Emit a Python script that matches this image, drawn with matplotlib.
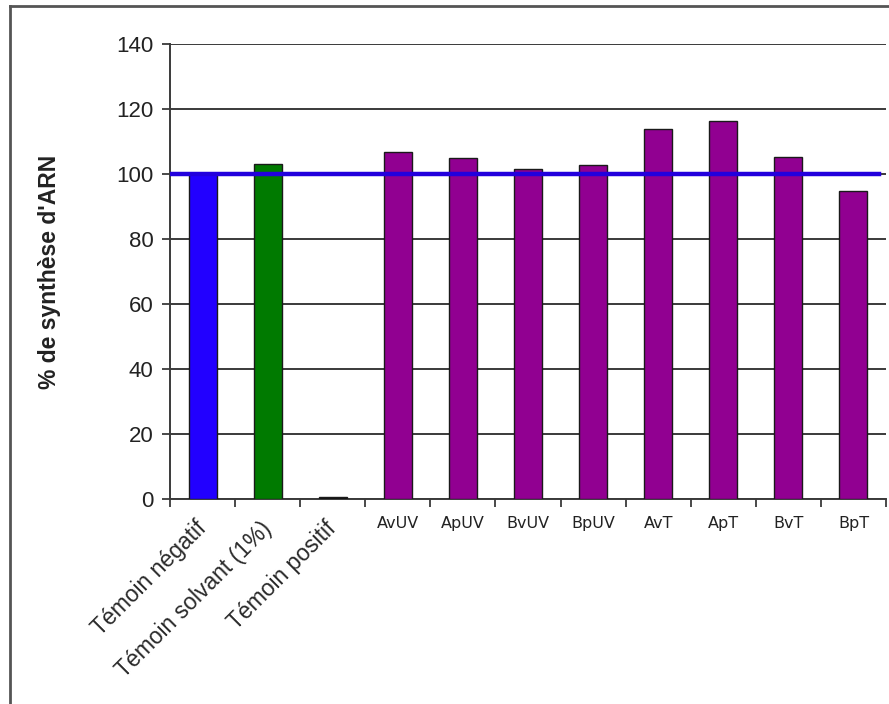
import matplotlib
matplotlib.use("Agg")
import matplotlib.pyplot as plt
from matplotlib.lines import Line2D

categories = ["Témoin négatif", "Témoin solvant (1%)", "Témoin positif",
              "AvUV", "ApUV", "BvUV", "BpUV", "AvT", "ApT", "BvT", "BpT"]
values = [100.0, 103.2, 0.5, 106.8, 105.0, 101.6, 102.8, 114.0, 116.2, 105.1, 94.7]
bar_colors = ["#2200ff", "#007a00", "#111111"] + ["#910091"] * 8
rotated = [True, True, True] + [False] * 8
reference_level = 100
y_ticks = [0, 20, 40, 60, 80, 100, 120, 140]

plt.rcParams['font.family'] = ['Liberation Sans', 'DejaVu Sans']

fig = plt.figure(figsize=(8.89, 7.04), dpi=100)
ax = fig.add_axes([170/889, 205/704, 716/889, 455/704])

x = list(range(len(categories)))
ax.bar(x, values, width=0.43, color=bar_colors, edgecolor="#1a1a1a", linewidth=1.0, zorder=3)
ax.axhline(reference_level, xmin=0, xmax=0.99, color="#2200dd", linewidth=3.2, zorder=4)

ax.set_xlim(-0.5, len(categories) - 0.5)
ax.set_ylim(0, 140)
ax.set_yticks(y_ticks)
ax.set_yticklabels([str(v) for v in y_ticks], fontsize=16, color="#222222")
ax.yaxis.grid(True, color="#3a3a3a", linewidth=1.4, zorder=0)
ax.set_axisbelow(True)

for s in ["top", "right"]:
    ax.spines[s].set_visible(False)
for s in ["left", "bottom"]:
    ax.spines[s].set_color("#3a3a3a")
    ax.spines[s].set_linewidth(1.4)

ax.tick_params(axis="y", length=6, width=1.3, color="#3a3a3a", pad=6)
# ticks at category boundaries
ax.set_xticks([i - 0.5 for i in range(len(categories) + 1)], minor=True)
ax.tick_params(axis="x", which="minor", length=6, width=1.3, color="#3a3a3a")
ax.set_xticks(x)
ax.tick_params(axis="x", which="major", length=0)
ax.set_xticklabels([])

for i, (lab, rot) in enumerate(zip(categories, rotated)):
    if rot:
        ax.text(i - 0.12, -5.5, lab, rotation=45, rotation_mode="anchor",
                ha="right", va="top", fontsize=16.5, color="#2a2a2a",
                clip_on=False)
    else:
        ax.text(i, -5.3, lab, ha="center", va="top", fontsize=11.5,
                family=["DejaVu Sans"], color="#222222", clip_on=False)

ax.set_ylabel("% de synthèse d'ARN", fontsize=16.5, fontweight="bold",
              color="#222222", labelpad=40)

# outer chart border (cropped at right and bottom)
fig.add_artist(Line2D([10/889, 10/889], [0, 1 - 6/704], transform=fig.transFigure,
                      color="#555555", linewidth=2))
fig.add_artist(Line2D([10/889, 1], [1 - 6/704, 1 - 6/704], transform=fig.transFigure,
                      color="#555555", linewidth=2))

fig.savefig("out.png", dpi=100)
